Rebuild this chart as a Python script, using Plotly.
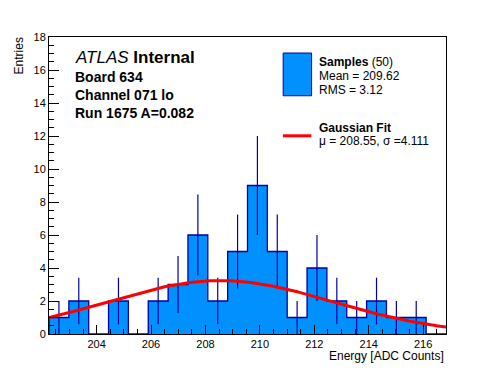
import numpy as np
import plotly.graph_objects as go

# ---------------- data ----------------
bin_low = 202.25
bin_width = 0.7295
counts = [1, 2, 0, 2, 0, 2, 3, 6, 2, 5, 9, 5, 1, 4, 2, 1, 2, 1, 1, 0]
n_samples = 50
mean_val = 209.62
rms_val = 3.12
fit_mu = 208.55
fit_sigma = 4.111
fit_amp = 3.24
x_ticks = [204, 206, 208, 210, 212, 214, 216]
y_ticks = [0, 2, 4, 6, 8, 10, 12, 14, 16, 18]

edges = [bin_low + i * bin_width for i in range(len(counts) + 1)]
centers = [(edges[i] + edges[i + 1]) / 2 for i in range(len(counts))]
errs = [np.sqrt(c) for c in counts]

FILL = "rgb(0,145,255)"
EDGE = "rgb(0,0,160)"
FONT = "Liberation Sans, Arial, Helvetica, sans-serif"

OFF = 8  # page body margin
W, H = 496 - OFF, 372 - OFF
L, R, T, B = 49.3, 446.0, 37.3, 334.0   # plot frame in window pixels


def px(x):
    return (x - L) / (R - L)


def py(y):
    return (B - y) / (B - T)


fig = go.Figure()

fig.add_trace(go.Bar(x=centers, y=counts, width=bin_width,
                     marker=dict(color=FILL, line=dict(width=0)),
                     showlegend=False, hoverinfo="skip"))

fig.add_trace(go.Scatter(x=[edges[0]] + edges, y=[0] + counts + [0],
                         mode="lines", line=dict(shape="hv", color=EDGE, width=1.3),
                         showlegend=False, hoverinfo="skip"))

fig.add_trace(go.Scatter(x=centers, y=counts, mode="markers",
                         marker=dict(size=1, color=EDGE, opacity=0),
                         error_y=dict(type="data", array=errs, symmetric=True,
                                      color=EDGE, thickness=1.2, width=0),
                         showlegend=False, hoverinfo="skip"))

xf = np.linspace(edges[0], edges[-1], 300)
yf = fit_amp * np.exp(-0.5 * ((xf - fit_mu) / fit_sigma) ** 2)
fig.add_trace(go.Scatter(x=xf, y=yf, mode="lines",
                         line=dict(color="rgb(255,0,0)", width=3),
                         showlegend=False, hoverinfo="skip"))

shapes = [
    dict(type="rect", xref="paper", yref="paper",
         x0=px(283.3), x1=px(311.7), y0=py(96), y1=py(53.3),
         fillcolor=FILL, line=dict(color=EDGE, width=1)),
    dict(type="line", xref="paper", yref="paper",
         x0=px(283), x1=px(311.5), y0=py(136), y1=py(136),
         line=dict(color="rgb(255,0,0)", width=3)),
]


def ann(text, x, y, size, xanchor="left", angle=0):
    return dict(text=text, xref="paper", yref="paper", x=px(x), y=py(y),
                xanchor=xanchor, yanchor="middle", showarrow=False,
                textangle=angle, font=dict(family=FONT, size=size, color="black"))


annotations = [
    ann("<i>ATLAS</i> <b>Internal</b>", 73, 58, 17),
    ann("<b>Board 634</b>", 73, 77, 14),
    ann("<b>Channel 071 lo</b>", 73, 95.5, 14),
    ann("<b>Run 1675 A=0.082</b>", 73, 113.5, 14),
    ann("<b>Samples</b> (%d)" % n_samples, 317, 62, 12),
    ann("Mean = %.2f" % mean_val, 317, 76.5, 12),
    ann("RMS = %.2f" % rms_val, 317, 90.5, 12),
    ann("<b>Gaussian Fit</b>", 317, 128.5, 12),
    ann("\u03bc = %.2f, \u03c3 =%.3f" % (fit_mu, fit_sigma), 317, 141.5, 12),
    ann("Energy [ADC Counts]", 446, 356, 12, xanchor="right"),
    ann("Entries", 19, 56, 12, xanchor="center", angle=-90),
]

axis_common = dict(showline=True, linecolor="black", linewidth=1, mirror=True,
                   ticks="inside", tickcolor="black", tickwidth=1,
                   showgrid=False, zeroline=False,
                   tickfont=dict(family=FONT, size=11, color="black"))

fig.update_layout(
    width=W, height=H,
    margin=dict(l=L - OFF, r=W - (R - OFF), t=T - OFF, b=H - (B - OFF), pad=0),
    plot_bgcolor="white", paper_bgcolor="white",
    bargap=0, showlegend=False,
    shapes=shapes, annotations=annotations,
    xaxis=dict(range=[edges[0], edges[-1]], tickvals=x_ticks, ticklen=9,
               minor=dict(dtick=0.5, tick0=204, ticklen=5, ticks="inside", tickcolor="black"),
               **axis_common),
    yaxis=dict(range=[0, 18], tickvals=y_ticks, ticklen=10,
               minor=dict(dtick=0.5, tick0=0, ticklen=5, ticks="inside", tickcolor="black"),
               **axis_common),
)

fig.write_html("out.html")
